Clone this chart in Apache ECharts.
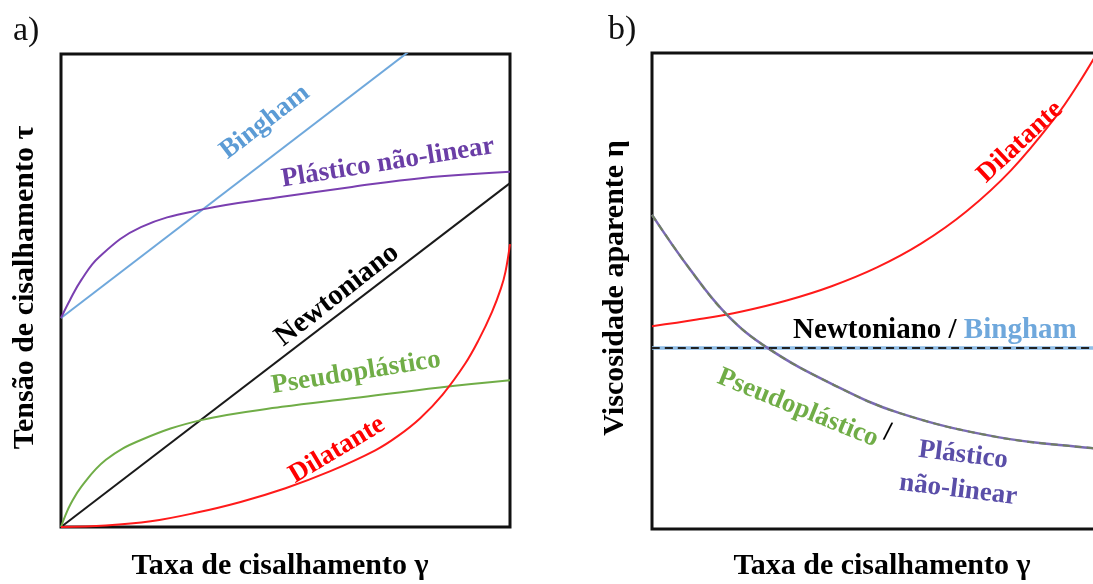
<!DOCTYPE html>
<html><head><meta charset="utf-8">
<script src="https://cdn.jsdelivr.net/npm/echarts@6/dist/echarts.min.js"></script>
<style>html,body{margin:0;padding:0;background:#fff;}#c{width:1093px;height:584px;}</style>
</head><body><div id="c"></div>
<script>
// ---------- Panel a: shear stress vs shear rate ----------
const newtA_x = [0, 10];
const newtA_y = [0, 7.27];
const binghamA_x = [0, 10];
const binghamA_y = [4.42, 11.69];
const plastA_x = [0, 0.2, 0.45, 0.85, 1.78, 3.18, 4.92, 6.48, 8.06, 10];
const plastA_y = [4.42, 4.80, 5.22, 5.71, 6.34, 6.72, 6.98, 7.19, 7.38, 7.51];
const pseudoA_x = [0, 0.1, 0.2, 0.45, 1.0, 1.78, 3.12, 4.92, 6.48, 8.44, 10];
const pseudoA_y = [0, 0.25, 0.46, 0.85, 1.42, 1.84, 2.26, 2.54, 2.72, 2.95, 3.10];
const dilatA_x = [0, 1, 2, 3, 4, 5, 6, 7, 7.5, 8, 8.5, 9, 9.3, 9.6, 9.8, 9.9, 10];
const dilatA_y = [0, 0.03, 0.12, 0.30, 0.53, 0.82, 1.18, 1.62, 1.92, 2.30, 2.80, 3.45, 3.95, 4.55, 5.05, 5.40, 5.98];

// ---------- Panel b: apparent viscosity vs shear rate ----------
const newtB_x = [0, 10];
const newtB_y = [3.80, 3.80];
const dilatB_x = [0, 1, 2, 3, 4, 5, 6, 7, 8, 9, 9.5, 10];
const dilatB_y = [4.26, 4.40, 4.57, 4.80, 5.10, 5.49, 6.00, 6.67, 7.54, 8.67, 9.36, 10.14];
const pseudoB_x = [0, 0.85, 1.67, 2.58, 4.0, 5.5, 7.7, 9.78, 10];
const pseudoB_y = [6.6, 5.45, 4.5, 3.8, 3.05, 2.44, 1.93, 1.70, 1.69];

// ---------- Texts ----------
const panelTitles = ['a)', 'b)'];
const xTitles = ['Taxa de cisalhamento γ', 'Taxa de cisalhamento γ'];
const yTitles = ['Tensão de cisalhamento τ', 'Viscosidade aparente η'];
// [panel, text, x, y (data units), angle deg, color, size]
const curveLabels = [
  [0, 'Bingham', 4.54, 8.56, 37.5, '#5b9bd5', 27],
  [0, 'Plástico não-linear', 7.28, 7.70, 9, '#6a3ea6', 27],
  [0, 'Newtoniano', 6.15, 4.90, 38, '#000000', 29],
  [0, 'Pseudoplástico', 6.57, 3.26, 9, '#70ad47', 27],
  [0, 'Dilatante', 6.15, 1.63, 31, '#ff0000', 27],
  [1, 'Dilatante', 8.20, 8.13, 43, '#ff0000', 27],
  [1, 'Pseudoplástico', 3.25, 2.54, -22, '#70ad47', 27],
  [1, '/', 5.25, 2.02, -8, '#000000', 27],
  [1, 'Plástico', 6.93, 1.55, -7, '#5a4ea8', 27],
  [1, 'não-linear', 6.82, 0.82, -7, '#5a4ea8', 27]
];
const newtBinghamLabel = [1, 6.30, 4.18];

const zip = (xs, ys) => xs.map((x, i) => [x, ys[i]]);
const chart = echarts.init(document.getElementById('c'), null, {renderer: 'canvas'});

const grids = [
  {left: 61, top: 54, width: 449, height: 473},
  {left: 652, top: 53, width: 449, height: 476}
];
const SERIF = '"Liberation Serif", "Times New Roman", serif';

function line(gi, xs, ys, color, width, type, z) {
  return {
    type: 'line', xAxisIndex: gi, yAxisIndex: gi, data: zip(xs, ys),
    showSymbol: false, symbol: 'none', smooth: 0.4,
    clip: true, silent: true, z: z || 2,
    lineStyle: {color: color, width: width, type: type || 'solid'}
  };
}

chart.setOption({
  animation: false,
  backgroundColor: '#ffffff',
  grid: grids.map(g => Object.assign({show: true, borderColor: '#111111', borderWidth: 3, backgroundColor: 'transparent', containLabel: false, outerBoundsMode: 'none'}, g)),
  xAxis: [0, 1].map(i => ({type: 'value', gridIndex: i, min: 0, max: 10, show: false})),
  yAxis: [0, 1].map(i => ({type: 'value', gridIndex: i, min: 0, max: 10, show: false})),
  series: [
    line(0, binghamA_x, binghamA_y, '#6fa8dc', 2),
    line(0, plastA_x, plastA_y, '#7a3fb0', 2),
    line(0, newtA_x, newtA_y, '#1a1a1a', 2),
    line(0, pseudoA_x, pseudoA_y, '#70ad47', 2),
    line(0, dilatA_x, dilatA_y, '#ff1a1a', 2),
    line(1, dilatB_x, dilatB_y, '#ff1a1a', 2),
    line(1, newtB_x, newtB_y, '#8fbde6', 3.5, 'solid', 2),
    line(1, newtB_x, newtB_y, '#222222', 2, [8, 5], 3),
    line(1, pseudoB_x, pseudoB_y, '#7a6ab4', 2.5, 'solid', 2),
    line(1, pseudoB_x, pseudoB_y, '#6f7f60', 2, [7, 5], 3)
  ]
});

const graphics = [];
graphics.push({type: 'text', x: 13, y: 31, style: {text: panelTitles[0], font: '34px ' + SERIF, fill: '#111', align: 'left', verticalAlign: 'middle'}});
graphics.push({type: 'text', x: 608, y: 30, style: {text: panelTitles[1], font: '34px ' + SERIF, fill: '#111', align: 'left', verticalAlign: 'middle'}});
const yTitleX = [25, 615];
const xTitleCX = [280, 882];
grids.forEach((g, i) => {
  graphics.push({type: 'text', x: xTitleCX[i], y: 566,
    style: {text: xTitles[i], font: 'bold 30px ' + SERIF, fill: '#000', align: 'center', verticalAlign: 'middle'}});
  graphics.push({type: 'text', x: yTitleX[i], y: g.top + g.height / 2 - 3, rotation: Math.PI / 2,
    style: {text: yTitles[i], font: 'bold 30px ' + SERIF, fill: '#000', align: 'center', verticalAlign: 'middle'}});
});
curveLabels.forEach(l => {
  const p = chart.convertToPixel({gridIndex: l[0]}, [l[2], l[3]]);
  graphics.push({type: 'text', x: p[0], y: p[1], rotation: l[4] * Math.PI / 180, z: 10,
    style: {text: l[1], font: 'bold ' + l[6] + 'px ' + SERIF, fill: l[5], align: 'center', verticalAlign: 'middle'}});
});
{
  const p = chart.convertToPixel({gridIndex: newtBinghamLabel[0]}, [newtBinghamLabel[1], newtBinghamLabel[2]]);
  graphics.push({type: 'text', x: p[0], y: p[1], z: 10,
    style: {
      text: '{a|Newtoniano / }{b|Bingham}',
      align: 'center', verticalAlign: 'middle',
      rich: {
        a: {font: 'bold 29px ' + SERIF, fill: '#000'},
        b: {font: 'bold 29px ' + SERIF, fill: '#6fa8dc'}
      }
    }});
}
chart.setOption({graphic: graphics});
</script>
</body></html>
